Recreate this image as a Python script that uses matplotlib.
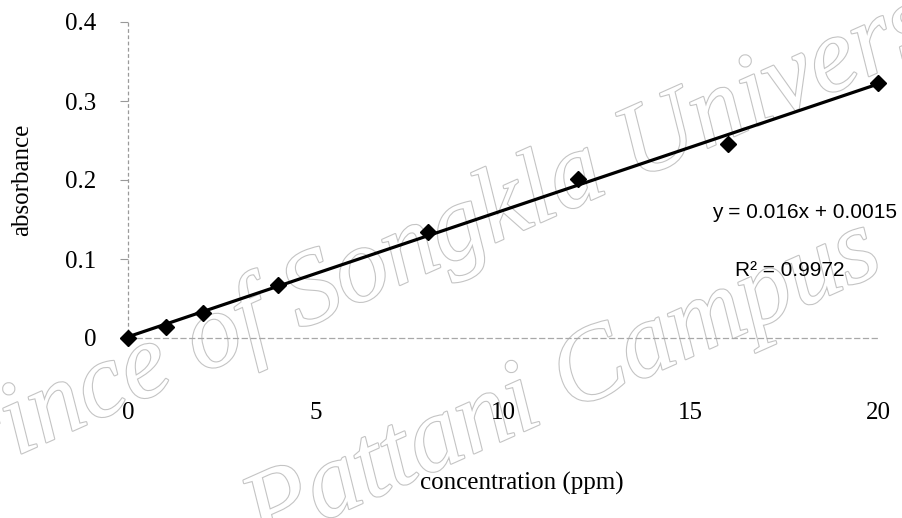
import matplotlib
matplotlib.use("Agg")
import matplotlib.pyplot as plt
import matplotlib.patheffects as pe

# calibration data
conc = [0, 1, 2, 4, 8, 12, 16, 20]
absorb = [0.0, 0.014, 0.032, 0.067, 0.134, 0.201, 0.245, 0.323]
y_ticks = [0, 0.1, 0.2, 0.3, 0.4]
y_tick_labels = ["0", "0.1", "0.2", "0.3", "0.4"]
x_ticks = [0, 5, 10, 15, 20]
slope, intercept = 0.016, 0.0015
r2 = 0.9972

serif = "Liberation Serif"
sans = "Liberation Sans"

fig = plt.figure(figsize=(9.02, 5.18), dpi=100)
ax = fig.add_axes([128 / 902, 1 - 338 / 518, 750 / 902, 316 / 518])

# watermark behind the data
stroke = [pe.withStroke(linewidth=1.6, foreground="#c4c4c4")]
fig.text(-0.089, 0.037, "Prince of Songkla University", fontsize=76, family=serif,
         style="italic", color="white", rotation=24, rotation_mode="anchor",
         ha="left", va="baseline", path_effects=stroke, zorder=0)
fig.text(0.290, -0.058, "Pattani Campus", fontsize=76, family=serif,
         style="italic", color="white", rotation=24, rotation_mode="anchor",
         ha="left", va="baseline", path_effects=stroke, zorder=0)
ax.set_zorder(1)
ax.patch.set_visible(False)

fit_x = [conc[0], conc[-1]]
fit_y = [slope * v + intercept for v in fit_x]
ax.plot(fit_x, fit_y, color="black", linewidth=2.3, clip_on=False, zorder=3)
ax.plot(conc, absorb, linestyle="none", marker="D", markersize=8.5,
        color="black", clip_on=False, zorder=4)

ax.set_xlim(0, 20)
ax.set_ylim(0, 0.4)
ax.set_xticks(x_ticks)
ax.set_xticklabels([str(v) for v in x_ticks], family=serif, fontsize=18)
ax.set_yticks(y_ticks)
ax.set_yticklabels(y_tick_labels, family=serif, fontsize=18)
ax.tick_params(axis="x", length=0, pad=46)
ax.tick_params(axis="y", length=6, width=0.8, color="#999999", pad=17)

for side in ("top", "right"):
    ax.spines[side].set_visible(False)
ax.spines["left"].set_color("#9a9a9a")
ax.spines["left"].set_linestyle((0, (2, 3)))
ax.spines["left"].set_linewidth(0.9)
ax.spines["bottom"].set_color("#a8a8a8")
ax.spines["bottom"].set_linestyle((0, (4, 3)))
ax.spines["bottom"].set_linewidth(0.9)

ax.set_xlabel("concentration (ppm)", family=serif, fontsize=18)
ax.xaxis.set_label_coords(0.525, -0.425)
ax.set_ylabel("absorbance", family=serif, fontsize=18)
ax.yaxis.set_label_coords(-0.127, 0.5)

fig.text(897 / 902, 1 - 213 / 518, f"y = {slope}x + {intercept}", family=sans,
         fontsize=15, ha="right", va="center")
fig.text(790 / 902, 1 - 270 / 518, f"R\u00b2 = {r2}", family=sans,
         fontsize=15, ha="center", va="center")

fig.savefig("out.png", dpi=100)
